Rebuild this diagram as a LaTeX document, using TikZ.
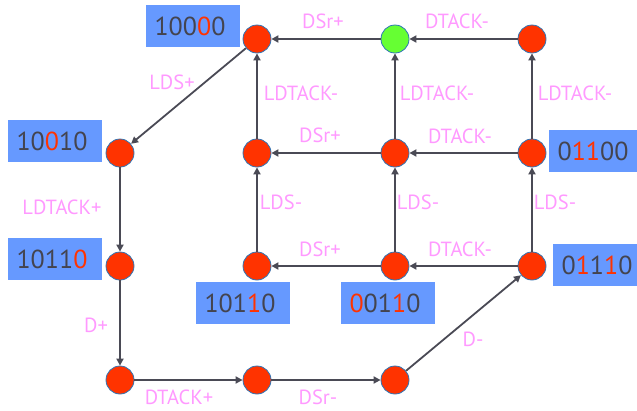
\documentclass[tikz,border=0pt]{standalone}
\usepackage{fontspec}
\setmainfont{PT Sans}
\usetikzlibrary{arrows.meta}
\definecolor{stateRed}{HTML}{FF3300}
\definecolor{stateGreen}{HTML}{66FF33}
\definecolor{rim}{HTML}{2E75B6}
\definecolor{codeBox}{HTML}{6699FF}
\definecolor{ink}{HTML}{44444F}
\definecolor{lbl}{HTML}{FF99FF}
\definecolor{wire}{HTML}{4A4A55}
\newcommand\hi[1]{\textcolor{stateRed}{#1}}
\begin{document}
\begin{tikzpicture}[x=1pt,y=-1pt,
  st/.style={circle,fill=stateRed,draw=rim,line width=0.8pt,minimum size=28pt,inner sep=0pt},
  code/.style={fill=codeBox,minimum width=94pt,minimum height=42pt,inner sep=0pt,
    font=\fontsize{26}{26}\selectfont,text=ink},
  ev/.style={text=lbl,font=\fontsize{20.5}{20.5}\selectfont,inner sep=0pt},
  tr/.style={draw=wire,line width=1.8pt,-{Triangle[length=7pt,width=7pt]}}]
\useasboundingbox (0,0) rectangle (637,410);

% state codes
\node[code] (b10000) at (193,26)  {\hspace*{-6pt}100\hi{0}0};
\node[code] (b10010) at (55,141)  {\hspace*{-6pt}10\hi{0}10};
\node[code] (b10110l) at (55,259) {\hspace*{-6pt}1011\hi{0}};
\node[code] (b10110b) at (243,303) {\hspace*{-6pt}101\hi{1}0};
\node[code] (b00110) at (388,303) {\hspace*{-6pt}\hi{0}01\hi{1}0};
\node[code] (b01110) at (600,265) {\hspace*{-6pt}0\hi{1}1\hi{1}0};
\node[code] (b01100) at (596,151) {\hspace*{-6pt}0\hi{1}\hi{1}00};

% states
\node[st] (a) at (257,39) {};
\node[st,fill=stateGreen] (g) at (395,39) {};
\node[st] (c) at (532,39) {};
\node[st] (d) at (257,153) {};
\node[st] (e) at (395,153) {};
\node[st] (f) at (532,153) {};
\node[st] (h) at (257,266) {};
\node[st] (i) at (395,266) {};
\node[st] (j) at (532,266) {};
\node[st] (k) at (120,153) {};
\node[st] (l) at (120,266) {};
\node[st] (m) at (120,380) {};
\node[st] (n) at (257,380) {};
\node[st] (o) at (395,380) {};

% transitions
\draw[tr] (c) -- (g);
\draw[tr] (g) -- (a);
\draw[tr] (a) -- (k);
\draw[tr] (k) -- (l);
\draw[tr] (l) -- (m);
\draw[tr] (m) -- (n);
\draw[tr] (n) -- (o);
\draw[tr] (o) -- (j);
\draw[tr] (j) -- (i);
\draw[tr] (i) -- (h);
\draw[tr] (j) -- (f);
\draw[tr] (i) -- (e);
\draw[tr] (h) -- (d);
\draw[tr] (f) -- (e);
\draw[tr] (e) -- (d);
\draw[tr] (f) -- (c);
\draw[tr] (e) -- (g);
\draw[tr] (d) -- (a);

% events
\node[ev] (t1) at (323,21) {DSr+};
\node[ev] (t2) at (457,21) {DTACK-};
\node[ev] (t3) at (301,93) {LDTACK-};
\node[ev] (t4) at (437,93) {LDTACK-};
\node[ev] (t5) at (575,93) {LDTACK-};
\node[ev] (t6) at (320,135) {DSr+};
\node[ev] (t7) at (460,136) {DTACK-};
\node[ev] (t8) at (281,202) {LDS-};
\node[ev] (t9) at (418,202) {LDS-};
\node[ev] (t10) at (555,202) {LDS-};
\node[ev] (t11) at (320,249) {DSr+};
\node[ev] (t12) at (460,249) {DTACK-};
\node[ev] (t13) at (172,82) {LDS+};
\node[ev] (t14) at (62,207) {LDTACK+};
\node[ev] (t15) at (96,325) {D+};
\node[ev] (t16) at (179,397) {DTACK+};
\node[ev] (t17) at (318,397) {DSr-};
\node[ev] (t18) at (473,339) {D-};
\end{tikzpicture}
\end{document}
